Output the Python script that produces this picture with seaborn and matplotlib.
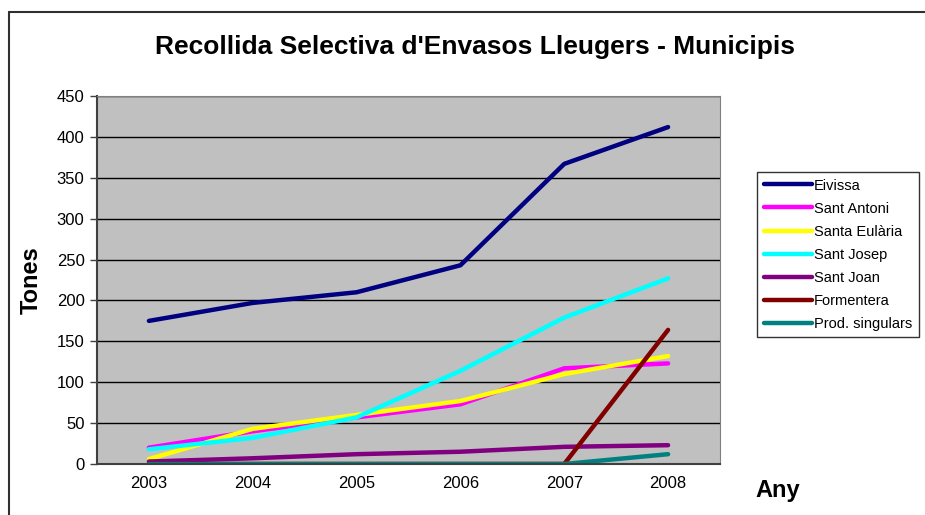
import pandas as pd
import matplotlib
matplotlib.use("Agg")
import matplotlib.pyplot as plt
from matplotlib.lines import Line2D
import seaborn as sns

years = [2003, 2004, 2005, 2006, 2007, 2008]
eivissa = [175, 197, 210, 243, 367, 412]
sant_antoni = [20, 40, 57, 73, 117, 123]
santa_eularia = [6, 43, 60, 77, 110, 132]
sant_josep = [18, 32, 57, 114, 179, 227]
sant_joan = [3, 7, 12, 15, 21, 23]
formentera = [0, 0, 0, 0, 0, 164]
prod_singulars = [0, 0, 0, 0, 0, 12]

series = {
    "Eivissa": eivissa,
    "Sant Antoni": sant_antoni,
    "Santa Eulària": santa_eularia,
    "Sant Josep": sant_josep,
    "Sant Joan": sant_joan,
    "Formentera": formentera,
    "Prod. singulars": prod_singulars,
}
colors = ["#000080", "#FF00FF", "#FFFF00", "#00FFFF", "#800080", "#800000", "#008080"]

rows = []
for name, vals in series.items():
    for y, v in zip(years, vals):
        rows.append({"Any": y, "Tones": v, "Municipi": name})
df = pd.DataFrame(rows)

sns.set_style("white")
plt.rcParams["font.family"] = ["Liberation Sans", "DejaVu Sans"]
plt.rcParams["text.color"] = "black"
plt.rcParams["axes.labelcolor"] = "black"
plt.rcParams["xtick.color"] = "black"
plt.rcParams["ytick.color"] = "black"

fig = plt.figure(figsize=(9.25, 5.15), dpi=100)
ax = fig.add_axes([97 / 925, 1 - 464 / 515, 623 / 925, 368 / 515])
ax.set_facecolor("#C0C0C0")

sns.lineplot(data=df, x="Any", y="Tones", hue="Municipi", palette=colors,
             linewidth=3.2, ax=ax, legend=True)

ax.set_xlim(2002.5, 2008.5)
ax.set_ylim(0, 450)
ax.set_yticks(range(0, 451, 50))
ax.set_xticks(years)
ax.set_xticklabels([str(y) for y in years])
ax.set_xticks([2002.5 + i for i in range(7)], minor=True)
ax.tick_params(axis="x", which="major", length=0, labelsize=12, pad=9)
ax.tick_params(axis="x", which="minor", length=5, width=1, color="#404040", direction="out")
ax.tick_params(axis="y", length=5, width=1, color="#404040", direction="out", labelsize=12, left=True, pad=4)
ax.grid(axis="y", color="black", linewidth=1)
ax.set_axisbelow(True)
for s in ["top", "right"]:
    ax.spines[s].set_color("#808080")
for s in ["left", "bottom"]:
    ax.spines[s].set_color("#404040")
    ax.spines[s].set_linewidth(1.5)

ax.set_xlabel("")
ax.set_ylabel("Tones", fontsize=17, fontweight="bold", labelpad=10)
fig.text(778 / 925, 1 - 490 / 515, "Any", fontsize=17, fontweight="bold", ha="center", va="center")
fig.text(475 / 925, 1 - 47 / 515, "Recollida Selectiva d'Envasos Lleugers - Municipis",
         fontsize=19, fontweight="bold", ha="center", va="center")

handles, labels = ax.get_legend_handles_labels()
leg = ax.legend(handles, labels, loc="upper left", bbox_to_anchor=(757 / 925, 1 - 172 / 515),
                bbox_transform=fig.transFigure, frameon=True, fancybox=False,
                edgecolor="black", fontsize=10.5, handlelength=3.3, handletextpad=0.15,
                labelspacing=0.62, borderpad=0.45, borderaxespad=0)
leg.get_frame().set_linewidth(1)

# outer chart frame: left and top edges only
fig.add_artist(Line2D([9 / 925, 9 / 925], [0, 1 - 12 / 515], transform=fig.transFigure,
                      color="#303030", linewidth=1.5))
fig.add_artist(Line2D([9 / 925, 1], [1 - 12 / 515, 1 - 12 / 515], transform=fig.transFigure,
                      color="#303030", linewidth=1.5))

fig.savefig("out.png", dpi=100)
